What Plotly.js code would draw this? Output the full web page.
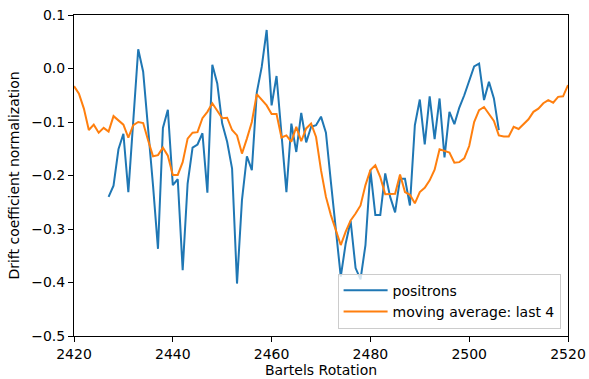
<!DOCTYPE html>
<html>
<head>
<meta charset="utf-8">
<script src="https://cdn.plot.ly/plotly-3.0.1.min.js"></script>
<style>html,body{margin:0;padding:0;background:#fff;}#chart{width:589px;height:379px;}</style>
</head>
<body>
<div id="chart"></div>
<script>
const positronRotations = [2427,2428,2429,2430,2431,2432,2433,2434,2435,2436,2437,2438,2439,2440,2441,2442,2443,2444,2445,2446,2447,2448,2449,2450,2451,2452,2453,2454,2455,2456,2457,2458,2459,2460,2461,2462,2463,2464,2465,2466,2467,2468,2469,2470,2471,2472,2473,2474,2475,2476,2477,2478,2479,2480,2481,2482,2483,2484,2485,2486,2487,2488,2489,2490,2491,2492,2493,2494,2495,2496,2497,2498,2499,2500,2501,2502,2503,2504,2505,2506];
const positronValues = [-0.240,-0.219,-0.151,-0.122,-0.231,-0.100,0.036,-0.006,-0.109,-0.219,-0.337,-0.111,-0.077,-0.218,-0.207,-0.377,-0.215,-0.148,-0.142,-0.121,-0.232,0.007,-0.028,-0.103,-0.137,-0.187,-0.402,-0.246,-0.164,-0.190,-0.045,0.003,0.072,-0.069,-0.014,-0.120,-0.231,-0.103,-0.156,-0.083,-0.138,-0.109,-0.106,-0.090,-0.120,-0.212,-0.300,-0.389,-0.327,-0.285,-0.373,-0.394,-0.330,-0.190,-0.274,-0.274,-0.196,-0.240,-0.269,-0.206,-0.206,-0.256,-0.106,-0.058,-0.142,-0.052,-0.132,-0.056,-0.166,-0.081,-0.104,-0.073,-0.050,-0.025,0.004,0.009,-0.059,-0.025,-0.056,-0.115];
const avgRotations = [2420,2421,2422,2423,2424,2425,2426,2427,2428,2429,2430,2431,2432,2433,2434,2435,2436,2437,2438,2439,2440,2441,2442,2443,2444,2445,2446,2447,2448,2449,2450,2451,2452,2453,2454,2455,2456,2457,2458,2459,2460,2461,2462,2463,2464,2465,2466,2467,2468,2469,2470,2471,2472,2473,2474,2475,2476,2477,2478,2479,2480,2481,2482,2483,2484,2485,2486,2487,2488,2489,2490,2491,2492,2493,2494,2495,2496,2497,2498,2499,2500,2501,2502,2503,2504,2505,2506,2507,2508,2509,2510,2511,2512,2513,2514,2515,2516,2517,2518,2519,2520];
const avgValues = [-0.033,-0.047,-0.075,-0.115,-0.105,-0.120,-0.111,-0.118,-0.089,-0.097,-0.105,-0.129,-0.106,-0.100,-0.102,-0.134,-0.164,-0.162,-0.148,-0.163,-0.199,-0.199,-0.175,-0.131,-0.120,-0.119,-0.093,-0.081,-0.065,-0.079,-0.093,-0.092,-0.115,-0.125,-0.159,-0.131,-0.100,-0.048,-0.058,-0.069,-0.085,-0.085,-0.129,-0.125,-0.137,-0.109,-0.136,-0.112,-0.103,-0.128,-0.190,-0.240,-0.274,-0.302,-0.330,-0.305,-0.284,-0.271,-0.256,-0.218,-0.190,-0.181,-0.203,-0.235,-0.235,-0.234,-0.198,-0.231,-0.236,-0.252,-0.231,-0.223,-0.209,-0.189,-0.151,-0.154,-0.157,-0.176,-0.175,-0.168,-0.145,-0.100,-0.078,-0.072,-0.086,-0.098,-0.125,-0.127,-0.127,-0.109,-0.113,-0.104,-0.095,-0.081,-0.075,-0.065,-0.059,-0.064,-0.053,-0.052,-0.031];
const xTicks = [2420,2440,2460,2480,2500,2520];
const yTicks = [-0.5,-0.4,-0.3,-0.2,-0.1,0.0,0.1];
const seriesNames = ['positrons','moving average: last 4'];

const font = {family: 'DejaVu Sans', size: 14, color: '#000'};
const traces = [
  {x: positronRotations, y: positronValues, type: 'scatter', mode: 'lines', name: seriesNames[0],
   line: {color: '#1f77b4', width: 2}},
  {x: avgRotations, y: avgValues, type: 'scatter', mode: 'lines', name: seriesNames[1],
   line: {color: '#ff7f0e', width: 2}}
];
const axisCommon = {showline: true, mirror: true, linecolor: '#000', linewidth: 1, ticks: 'outside',
  ticklen: 5, tickwidth: 1, tickcolor: '#000', showgrid: false, zeroline: false, tickfont: font};
const layout = {
  width: 589, height: 379,
  margin: {l: 74, r: 21, t: 15, b: 43, pad: 0},
  paper_bgcolor: '#fff', plot_bgcolor: '#fff',
  font: font,
  showlegend: true,
  legend: {x: 0.985, y: 0.023, xanchor: 'right', yanchor: 'bottom', bgcolor: 'rgba(255,255,255,0.8)',
    bordercolor: '#cccccc', borderwidth: 1, font: font, tracegroupgap: 0, itemwidth: 44},
  xaxis: Object.assign({}, axisCommon, {range: [2420, 2520], tickvals: xTicks,
    title: {text: 'Bartels Rotation', font: font, standoff: 4}}),
  yaxis: Object.assign({}, axisCommon, {range: [-0.5, 0.1], tickvals: yTicks, tickformat: '.1f',
    title: {text: 'Drift coefficient normalization', font: font, standoff: 8}})
};
Plotly.newPlot('chart', traces, layout, {displayModeBar: false, staticPlot: true});
</script>
</body>
</html>
